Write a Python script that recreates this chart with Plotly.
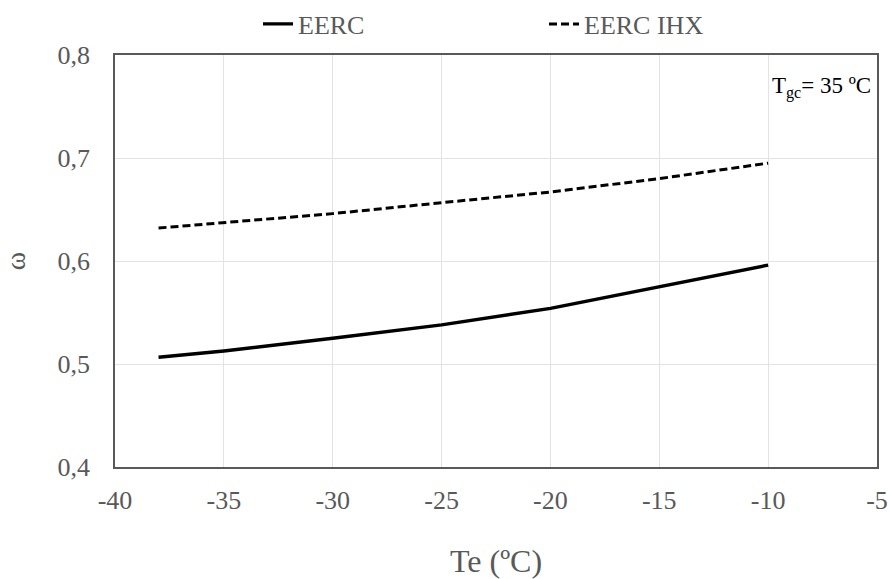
import plotly.graph_objects as go

te = [-38, -35, -30, -25, -20, -15, -10]
eerc = [0.5065, 0.5126, 0.525, 0.538, 0.554, 0.575, 0.596]
eerc_ihx = [0.632, 0.637, 0.646, 0.6566, 0.667, 0.680, 0.695]

x_tickvals = [-40, -35, -30, -25, -20, -15, -10, -5]
x_ticktext = ["-40", "-35", "-30", "-25", "-20", "-15", "-10", "-5"]
y_tickvals = [0.4, 0.5, 0.6, 0.7, 0.8]
y_ticktext = ["0,4", "0,5", "0,6", "0,7", "0,8"]

FONT = "Liberation Serif, Times New Roman, serif"
GRAY = "#595959"

fig = go.Figure()
fig.add_trace(go.Scatter(x=te, y=eerc, mode="lines", name="EERC", legend="legend",
                         line=dict(color="black", width=3.4)))
fig.add_trace(go.Scatter(x=te, y=eerc_ihx, mode="lines", name="EERC IHX", legend="legend2",
                         line=dict(color="black", width=3, dash="8px,4px")))

leg_common = dict(orientation="h", xref="container", yref="container",
                  xanchor="left", yanchor="middle", itemwidth=30,
                  font=dict(family=FONT, size=26, color=GRAY),
                  bgcolor="rgba(0,0,0,0)", borderwidth=0)

fig.update_layout(
    width=890, height=579,
    margin=dict(l=115, r=13, t=55, b=112, autoexpand=False),
    paper_bgcolor="white", plot_bgcolor="white",
    font=dict(family=FONT, size=26, color=GRAY),
    separators=",.",
    showlegend=True,
    legend=dict(x=258 / 890, y=1 - 24 / 579, **leg_common),
    legend2=dict(x=544 / 890, y=1 - 24 / 579, **leg_common),
    xaxis=dict(range=[-40, -5], tickvals=x_tickvals, ticktext=x_ticktext,
               showgrid=True, gridcolor="#e3e3e3", gridwidth=1,
               showline=True, linecolor="#595959", linewidth=1.5, mirror=True,
               ticks="", zeroline=False, ticklabeloverflow="allow",
               tickfont=dict(family=FONT, size=26, color=GRAY),
               ticklabelstandoff=9,
               title=dict(text="Te (ºC)", font=dict(family=FONT, size=32, color=GRAY),
                          standoff=38)),
    yaxis=dict(range=[0.4, 0.8], tickvals=y_tickvals, ticktext=y_ticktext,
               showgrid=True, gridcolor="#e3e3e3", gridwidth=1,
               showline=True, linecolor="#595959", linewidth=1.5, mirror=True,
               ticks="", zeroline=False,
               tickfont=dict(family=FONT, size=26, color=GRAY),
               ticklabelstandoff=18,
               title=dict(text="ω", font=dict(family=FONT, size=28, color=GRAY),
                          standoff=28)),
)

fig.add_annotation(text="T<sub>gc</sub>= 35 ºC", xref="paper", yref="paper",
                   x=0.995, y=0.92, xanchor="right", yanchor="middle",
                   showarrow=False, font=dict(family=FONT, size=23, color="black"))

fig.write_html("out.html")
